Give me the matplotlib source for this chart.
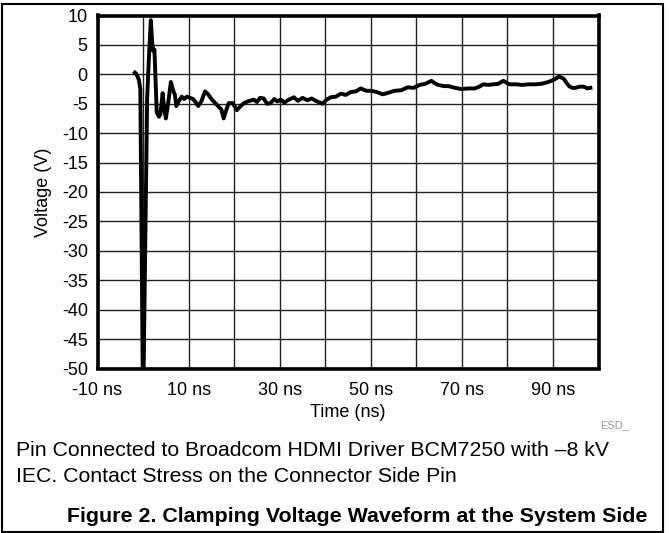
import matplotlib
matplotlib.use("Agg")
import matplotlib.pyplot as plt
from matplotlib.patches import Rectangle

plt.rcParams['font.family'] = ['Liberation Sans', 'DejaVu Sans']

time_ns = [-1.8, -1.5, -1.2, -0.9, -0.6, 0.0, 0.9, 1.3, 1.7, 2.0, 2.2, 2.5, 3.0, 3.5, 3.8,
           4.3, 4.6, 5.0, 5.5, 6.1, 6.6, 7.0, 7.3, 7.8, 8.5, 9.0, 9.6, 10.3, 11.0, 11.6,
           12.1, 12.8, 13.6, 14.3, 15.0, 15.5, 16.6, 17.2, 17.7, 18.2, 18.8, 19.7, 20.6,
           21.3, 22.1, 23.0, 24.3, 25.0, 25.7, 26.5, 27.2, 28.0, 28.8, 29.5, 30.2, 31.0,
           32.0, 33.1, 34.0, 35.0, 36.1, 37.0, 37.9, 39.4, 40.3, 41.2, 42.3, 43.4, 44.5,
           45.6, 46.7, 47.8, 49.0, 50.0, 51.3, 52.6, 54.0, 55.2, 56.7, 58.1, 59.4, 60.7,
           62.0, 63.3, 64.0, 64.8, 66.0, 67.0, 68.5, 69.9, 71.3, 72.8, 73.8, 74.7, 75.8,
           76.9, 78.0, 79.1, 79.9, 80.6, 82.0, 83.2, 84.6, 86.1, 87.5, 89.0, 90.2, 91.3,
           92.0, 92.4, 93.0, 93.5, 94.2, 94.9, 95.8, 96.8, 97.5, 98.2]
voltage_v = [0.3, 0.1, -0.4, -1.0, -2.5, -58.0, -4.0, 3.0, 9.2, 5.5, 4.0, 4.2, -6.5, -7.2, -6.8,
             -3.2, -5.5, -7.5, -5.0, -1.3, -2.7, -3.5, -5.4, -4.6, -3.8, -4.2, -3.8, -4.0, -4.2, -4.8,
             -5.4, -4.6, -2.9, -3.4, -4.2, -4.6, -5.5, -6.0, -7.5, -6.2, -4.9, -4.9, -6.1,
             -5.5, -4.9, -4.6, -4.3, -4.7, -4.0, -4.1, -5.0, -4.9, -4.2, -4.6, -4.3, -4.8,
             -4.3, -3.9, -4.5, -4.0, -4.4, -4.1, -4.5, -5.0, -4.3, -3.9, -3.8, -3.3, -3.5,
             -3.0, -2.9, -2.4, -2.8, -2.8, -3.0, -3.4, -3.1, -2.8, -2.7, -2.2, -2.3, -1.8,
             -1.6, -1.1, -1.5, -1.8, -2.0, -2.0, -2.3, -2.5, -2.4, -2.4, -2.1, -1.7, -1.8,
             -1.7, -1.6, -1.1, -1.5, -1.7, -1.7, -1.8, -1.7, -1.7, -1.6, -1.3, -0.9, -0.4,
             -0.6, -0.8, -1.5, -2.0, -2.3, -2.3, -2.1, -2.1, -2.4, -2.3]

x_ticks = [-10, 10, 30, 50, 70, 90]
x_tick_labels = ['-10 ns', '10 ns', '30 ns', '50 ns', '70 ns', '90 ns']
y_ticks = [10, 5, 0, -5, -10, -15, -20, -25, -30, -35, -40, -45, -50]

fig = plt.figure(figsize=(6.69, 5.33), dpi=100)
W, H = 669, 533
ax = fig.add_axes([97.5 / W, 1 - 368.5 / H, (598.6 - 97.5) / W, (368.5 - 15.5) / H])

ax.plot(time_ns, voltage_v, color='black', lw=2.8, solid_joinstyle='round', zorder=3)
ax.set_xlim(-10, 100)
ax.set_ylim(-50, 10)
ax.set_xticks(x_ticks)
ax.set_xticklabels(x_tick_labels, fontsize=13)
ax.set_xticks(range(-10, 101, 10), minor=True)
ax.set_yticks(y_ticks)
ax.set_yticklabels([str(v) for v in y_ticks], fontsize=13)
ax.tick_params(axis='x', which='both', length=0, pad=10)
ax.tick_params(axis='y', which='both', length=0, pad=7)
ax.grid(True, which='both', color='#222222', lw=1.0)
for s in ax.spines.values():
    s.set_linewidth(2.6)
    s.set_color('black')
ax.set_axisbelow(True)

ax.set_xlabel('Time (ns)', fontsize=13, labelpad=3)
ax.set_ylabel('Voltage (V)', fontsize=13, labelpad=7)

fig.text(600 / W, 1 - 425 / H, 'ESD_', fontsize=8, color='#999999', va='center', ha='left')
fig.text(16 / W, 1 - 450 / H, 'Pin Connected to Broadcom HDMI Driver BCM7250 with \u20138 kV',
         fontsize=15.3, va='center', ha='left')
fig.text(16 / W, 1 - 477 / H, 'IEC. Contact Stress on the Connector Side Pin',
         fontsize=15.3, va='center', ha='left')
fig.text(647 / W, 1 - 517 / H, 'Figure 2. Clamping Voltage Waveform at the System Side',
         fontsize=15.4, fontweight='bold', va='center', ha='right')

fig.patches.append(Rectangle((1.5 / W, 1 - 532 / H), (663 - 1.5) / W, (532 - 3.5) / H,
                             transform=fig.transFigure, fill=False, edgecolor='black', lw=1.5))

fig.savefig('out.png', dpi=100)
